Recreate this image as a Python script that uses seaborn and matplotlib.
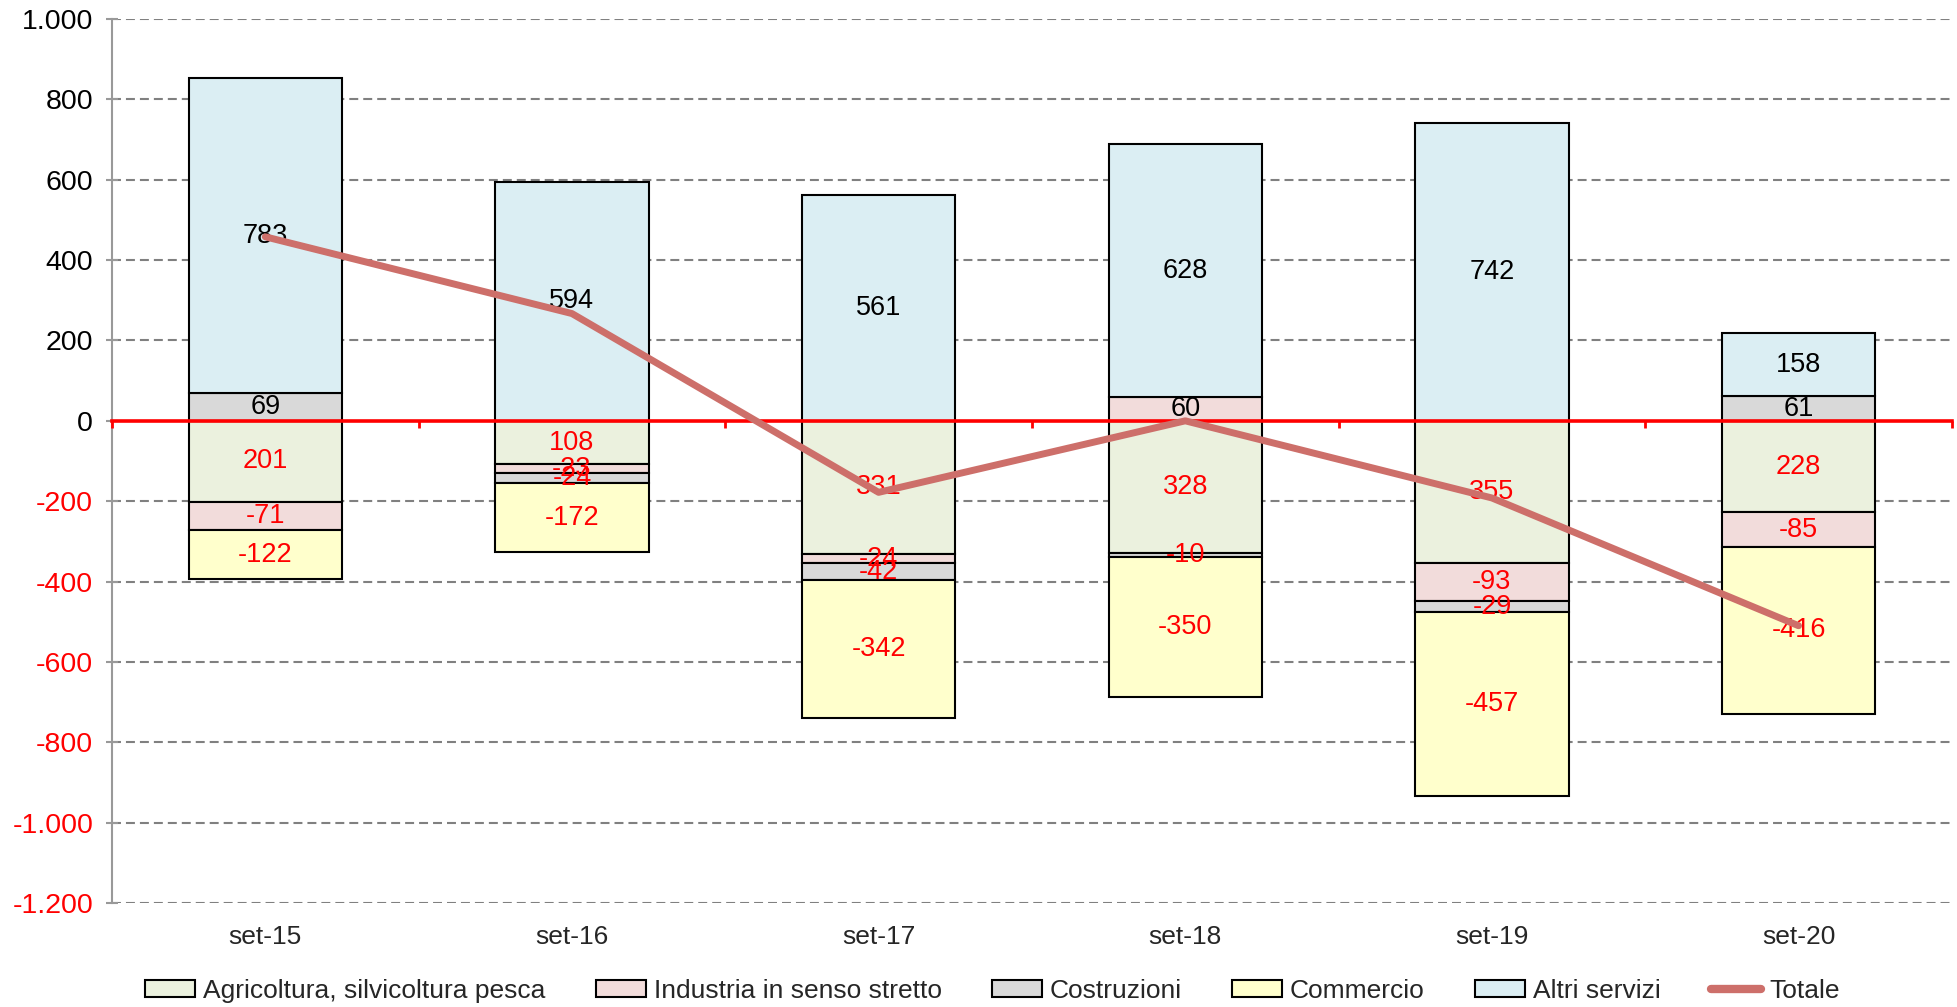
import numpy as np
import matplotlib
matplotlib.use("Agg")
import matplotlib.pyplot as plt
import seaborn as sns
from matplotlib.patches import Patch
from matplotlib.lines import Line2D
from matplotlib.ticker import FuncFormatter

# ------------------------------------------------------------
# Data
# ------------------------------------------------------------
periodi = ['set-15', 'set-16', 'set-17', 'set-18', 'set-19', 'set-20']

agricoltura = [-201, -108, -331, -328, -355, -228]
industria = [-71, -23, -24, 60, -93, -85]
costruzioni = [69, -24, -42, -10, -29, 61]
commercio = [-122, -172, -342, -350, -457, -416]
altri_servizi = [783, 594, 561, 628, 742, 158]
totale = [458, 267, -178, 0, -192, -510]

serie = ['Agricoltura, silvicoltura pesca', 'Industria in senso stretto',
         'Costruzioni', 'Commercio', 'Altri servizi']
valori = [agricoltura, industria, costruzioni, commercio, altri_servizi]
colori = ['#EBF1DE', '#F2DCDB', '#D9D9D9', '#FFFFCC', '#DBEEF3']
colore_totale = '#CD6F6A'

# ------------------------------------------------------------
# Style
# ------------------------------------------------------------
sns.set_style("white")
plt.rcParams['font.family'] = ['Liberation Sans', 'DejaVu Sans']

fig = plt.figure(figsize=(19.57, 10.07), dpi=100)
ax = fig.add_axes([0.0572, 0.1033, 0.9402, 0.8778])

# stacked bars: positives and negatives stacked separately (Excel style)
pos_base = np.zeros(len(periodi))
neg_base = np.zeros(len(periodi))
for nome, vals, col in zip(serie, valori, colori):
    vals = np.array(vals, dtype=float)
    bottoms = np.where(vals >= 0, pos_base, neg_base)
    sns.barplot(x=periodi, y=vals, bottom=bottoms, color=col, saturation=1,
                edgecolor='black', linewidth=1.5, width=0.5, ax=ax, zorder=2)
    pos_base = pos_base + np.where(vals >= 0, vals, 0)
    neg_base = neg_base + np.where(vals < 0, vals, 0)

    # labels (agricoltura shown without sign, as in the source)
    if nome.startswith('Agricoltura'):
        testi = [f'{abs(int(v))}' for v in vals]
    else:
        testi = [f'{int(v)}' for v in vals]
    labels = ax.bar_label(ax.containers[-1], labels=testi, label_type='center',
                          fontsize=19.5, zorder=3)
    for t, v in zip(labels, vals):
        t.set_color('red' if v < 0 else 'black')

# total line
sns.lineplot(x=np.arange(len(periodi)), y=totale, color=colore_totale,
             linewidth=5, ax=ax, zorder=6)

# ------------------------------------------------------------
# Axes
# ------------------------------------------------------------
ax.set_xlim(-0.5, len(periodi) - 0.5)
ax.set_ylim(-1200, 1000)
yticks = np.arange(-1200, 1001, 200)
ax.set_yticks(yticks)
ax.yaxis.set_major_formatter(FuncFormatter(lambda v, p: f'{v:,.0f}'.replace(',', '.')))
for t, v in zip(ax.get_yticklabels(), yticks):
    t.set_color('red' if v < 0 else 'black')
ax.tick_params(axis='y', direction='inout', length=9, width=1.5, color='#999999',
               pad=9, labelsize=20.5, left=True)

ax.set_xticks(range(len(periodi)))
ax.set_xticklabels(periodi)
ax.tick_params(axis='x', length=0, pad=16, labelsize=19)
ax.set_xlabel('')
ax.set_ylabel('')

ax.grid(axis='y', color='#808080', linestyle=(0, (4.3, 2.4)), linewidth=1.5, zorder=0)
ax.grid(axis='x', visible=False)
ax.set_axisbelow(True)
# no grid line at zero: the red axis sits there
for gl, v in zip(ax.yaxis.get_gridlines(), yticks):
    if v == 0:
        gl.set_visible(False)

for s in ['top', 'right', 'bottom']:
    ax.spines[s].set_visible(False)
ax.spines['left'].set_color('#999999')
ax.spines['left'].set_linewidth(1.5)

# red zero axis with category separators
sec = ax.secondary_xaxis(0, transform=ax.transData)
sec.set_zorder(5)
sec.spines['bottom'].set_color('red')
sec.spines['bottom'].set_linewidth(2.6)
sec.set_xticks(np.arange(len(periodi) + 1) - 0.5)
sec.set_xticklabels([])
sec.tick_params(axis='x', direction='out', length=5, width=2, color='red')

# ------------------------------------------------------------
# Legend
# ------------------------------------------------------------
handles = [Patch(facecolor=c, edgecolor='black', linewidth=1.5, label=n)
           for n, c in zip(serie, colori)]
handles.append(Line2D([0], [0], color=colore_totale, linewidth=6, label='Totale'))
fig.legend(handles=handles, loc='center', bbox_to_anchor=(0.507, 0.016), ncol=6,
           frameon=False, fontsize=19, handlelength=1.9, handleheight=0.6,
           handletextpad=0.3, columnspacing=1.9)

plt.savefig('out.png', dpi=100)
plt.close()
